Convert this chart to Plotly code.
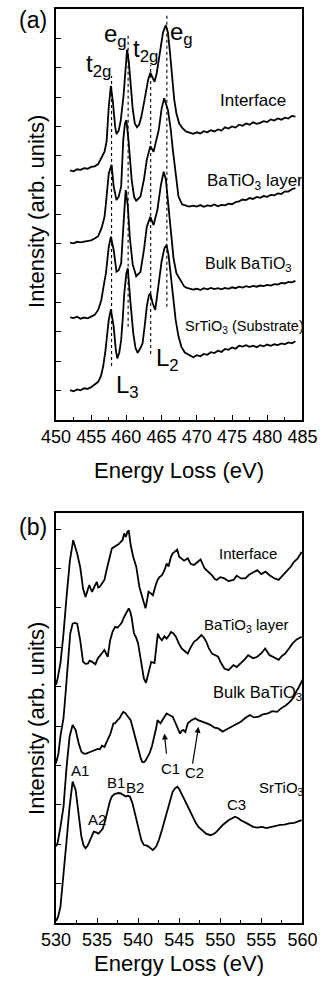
import plotly.graph_objects as go

# ---------------- Panel (a): Ti L2,3 edge (energy eV, intensity offset units) ----------------
A_INTERFACE = [
    (452.0, 8.50), (452.5, 8.47), (453.0, 8.54), (453.5, 8.52), (454.0, 8.58), (454.5, 8.56),
    (455.0, 8.62), (455.5, 8.64), (456.0, 8.72), (456.5, 8.95), (456.9, 9.14), (457.2, 9.50),
    (457.5, 10.67), (457.8, 11.38), (458.1, 10.80), (458.4, 10.00), (458.6, 9.74), (458.9, 9.85),
    (459.2, 10.20), (459.6, 11.05), (459.9, 12.20), (460.1, 12.62), (460.35, 12.20), (460.6, 11.50),
    (460.9, 10.60), (461.2, 10.10), (461.5, 9.97), (461.8, 10.05), (462.1, 10.30), (462.5, 10.80),
    (462.8, 11.20), (463.1, 11.60), (463.4, 11.83), (463.7, 11.65), (464.0, 11.52), (464.3, 11.80),
    (464.6, 12.26), (464.9, 12.80), (465.2, 13.20), (465.6, 13.45), (465.9, 13.20), (466.2, 12.50),
    (466.5, 11.70), (466.8, 10.90), (467.1, 10.45), (467.5, 10.10), (468.0, 9.93), (468.5, 9.82),
    (469.0, 9.79), (469.5, 9.75), (470.0, 9.80), (470.5, 9.76), (471.0, 9.84), (471.5, 9.80),
    (472.0, 9.87), (472.5, 9.83), (473.0, 9.90), (473.5, 9.86), (474.0, 9.97), (474.5, 9.93),
    (475.0, 10.00), (475.5, 9.96), (476.0, 10.06), (476.5, 10.02), (477.0, 10.10), (477.5, 10.06),
    (478.0, 10.14), (478.5, 10.09), (479.0, 10.12), (479.5, 10.18), (480.0, 10.15), (480.5, 10.24),
    (481.0, 10.20), (481.5, 10.27), (482.0, 10.23), (482.5, 10.30), (483.0, 10.27), (483.5, 10.36),
    (484.0, 10.33),
]
A_LAYER = [
    (452.0, 6.04), (452.5, 6.02), (453.0, 6.07), (453.5, 6.05), (454.0, 6.08), (454.5, 6.10),
    (455.0, 6.12), (455.5, 6.18), (456.0, 6.26), (456.5, 6.55), (456.9, 6.92), (457.1, 7.38),
    (457.5, 8.40), (457.9, 8.69), (458.2, 7.95), (458.6, 7.49), (458.9, 7.60), (459.26, 7.95),
    (459.56, 9.54), (459.8, 10.10), (460.0, 10.22), (460.3, 9.54), (460.76, 8.17), (461.1, 7.60),
    (461.4, 7.47), (462.0, 7.61), (462.5, 8.20), (462.9, 8.86), (463.4, 9.33), (463.86, 9.14),
    (464.2, 9.45), (464.6, 9.88), (465.0, 10.60), (465.37, 10.96), (465.9, 10.56), (466.3, 9.90),
    (466.6, 9.20), (467.0, 8.30), (467.4, 7.61), (467.9, 7.35), (468.4, 7.30), (468.9, 7.27),
    (469.5, 7.30), (470.0, 7.27), (470.5, 7.32), (471.0, 7.26), (471.5, 7.31), (472.0, 7.29),
    (472.5, 7.34), (473.0, 7.28), (473.5, 7.33), (474.0, 7.31), (474.5, 7.37), (475.0, 7.35),
    (475.5, 7.42), (476.0, 7.45), (476.5, 7.51), (477.0, 7.49), (477.5, 7.56), (478.0, 7.53),
    (478.5, 7.60), (479.0, 7.57), (479.5, 7.63), (480.0, 7.60), (480.5, 7.67), (481.0, 7.65),
    (481.5, 7.72), (482.0, 7.70), (482.5, 7.79), (483.0, 7.78), (483.5, 7.86), (484.0, 7.90),
]
A_BULK = [
    (452.0, 3.50), (452.5, 3.47), (453.0, 3.52), (453.5, 3.45), (454.0, 3.49), (454.5, 3.46),
    (455.0, 3.52), (455.5, 3.58), (456.0, 3.75), (456.45, 4.09), (456.8, 4.60), (457.1, 5.00),
    (457.5, 5.90), (457.8, 6.24), (458.2, 5.79), (458.6, 5.05), (458.9, 5.10), (459.26, 5.34),
    (459.5, 6.30), (459.7, 7.30), (459.9, 7.83), (460.2, 7.30), (460.5, 6.20), (460.9, 5.30),
    (461.4, 4.90), (462.0, 5.05), (462.5, 5.80), (462.9, 6.58), (463.4, 6.92), (463.86, 6.64),
    (464.4, 7.15), (464.9, 8.00), (465.3, 8.46), (465.6, 8.20), (465.9, 7.49), (466.3, 6.40),
    (466.7, 5.50), (467.1, 5.00), (467.65, 4.77), (468.2, 4.55), (468.6, 4.50), (469.0, 4.48),
    (469.5, 4.44), (470.0, 4.47), (470.5, 4.43), (471.0, 4.49), (471.5, 4.45), (472.0, 4.50),
    (472.5, 4.46), (473.0, 4.49), (473.5, 4.45), (474.0, 4.50), (474.5, 4.47), (475.0, 4.52),
    (475.5, 4.49), (476.0, 4.54), (476.5, 4.51), (477.0, 4.56), (477.5, 4.53), (478.0, 4.57),
    (478.5, 4.54), (479.0, 4.58), (479.5, 4.56), (480.0, 4.60), (480.5, 4.58), (481.0, 4.63),
    (481.5, 4.61), (482.0, 4.67), (482.5, 4.65), (483.0, 4.70), (483.5, 4.69), (484.0, 4.74),
]
A_SRTIO3 = [
    (452.0, 1.02), (452.5, 0.98), (453.0, 1.04), (453.5, 1.01), (454.0, 1.08), (454.5, 1.06),
    (455.0, 1.12), (455.5, 1.20), (456.0, 1.30), (456.4, 1.50), (456.7, 1.82), (457.0, 2.30),
    (457.2, 2.72), (457.5, 3.41), (457.8, 3.77), (458.2, 3.18), (458.5, 2.40), (458.7, 2.10),
    (459.0, 2.30), (459.26, 2.72), (459.5, 3.50), (459.7, 4.31), (460.0, 5.00), (460.2, 5.17),
    (460.55, 4.09), (460.98, 2.95), (461.3, 2.45), (461.6, 2.29), (462.0, 2.45), (462.3, 2.61),
    (462.6, 3.20), (462.9, 3.86), (463.2, 4.25), (463.4, 4.31), (463.7, 4.00), (464.1, 3.75),
    (464.6, 4.66), (465.0, 5.40), (465.4, 5.85), (465.7, 5.96), (466.0, 5.60), (466.3, 4.88),
    (466.7, 4.00), (467.0, 3.41), (467.4, 2.85), (467.8, 2.50), (468.3, 2.30), (468.9, 2.21),
    (469.5, 2.14), (470.0, 2.21), (470.5, 2.17), (471.0, 2.25), (471.5, 2.22), (472.0, 2.31),
    (472.5, 2.28), (473.0, 2.36), (473.5, 2.32), (474.0, 2.42), (474.5, 2.39), (475.0, 2.47),
    (475.5, 2.43), (476.0, 2.53), (476.5, 2.50), (477.0, 2.55), (477.5, 2.49), (478.0, 2.53),
    (478.5, 2.48), (479.0, 2.55), (479.5, 2.51), (480.0, 2.57), (480.5, 2.53), (481.0, 2.58),
    (481.5, 2.55), (482.0, 2.61), (482.5, 2.58), (483.0, 2.64), (483.5, 2.61), (484.0, 2.68),
]
# dotted guide lines: energy, bottom, top
A_DOT_E = [457.9, 460.25, 463.45, 465.75]
A_DOT_Y0 = [1.84, 3.18, 2.25, 3.86]
A_DOT_Y1 = [11.72, 13.10, 12.09, 13.80]

A_CURVE_LABELS = ["Interface", "BaTiO<sub>3</sub> layer", "Bulk BaTiO<sub>3</sub>", "SrTiO<sub>3</sub> (Substrate)"]
A_CURVE_LABEL_X = [478.0, 478.2, 477.3, 476.8]
A_CURVE_LABEL_Y = [10.90, 8.10, 5.30, 3.18]
A_CURVE_LABEL_SIZE = [17, 17, 16, 14.5]
A_PEAK_LABELS = ["t<sub>2g</sub>", "e<sub>g</sub>", "t<sub>2g</sub>", "e<sub>g</sub>", "L<sub>3</sub>", "L<sub>2</sub>"]
A_PEAK_X = [456.1, 458.5, 462.7, 467.8, 460.1, 465.9]
A_PEAK_Y = [12.06, 13.11, 12.57, 13.18, 1.14, 2.06]

A_XTICKS = [450, 455, 460, 465, 470, 475, 480, 485]

# ---------------- Panel (b): O K edge ----------------
B_INTERFACE = [
    (530.0, 6.05), (530.2, 6.20), (530.55, 6.60), (530.9, 7.30), (531.3, 8.30), (531.7, 9.20),
    (532.1, 9.72), (532.58, 9.38), (532.95, 9.04), (533.3, 8.49), (533.6, 8.28), (533.85, 8.45),
    (534.06, 8.58), (534.25, 8.48), (534.4, 8.41), (534.7, 8.55), (534.98, 8.66), (535.15, 8.52),
    (535.35, 8.54), (535.6, 8.62), (535.9, 8.71), (536.15, 8.95), (536.45, 9.21), (536.8, 9.51),
    (537.1, 9.55), (537.4, 9.59), (537.65, 9.62), (537.9, 9.68), (538.1, 9.72), (538.3, 9.89),
    (538.5, 9.80), (538.7, 9.93), (538.86, 9.97), (539.1, 9.59), (539.4, 9.30), (539.78, 9.04),
    (540.15, 8.54), (540.5, 8.28), (540.7, 8.10), (540.9, 7.99), (541.1, 8.20), (541.26, 8.41),
    (541.5, 8.38), (541.8, 8.32), (542.1, 8.55), (542.37, 8.71), (542.6, 8.78), (542.9, 8.83),
    (543.2, 8.95), (543.47, 9.13), (543.7, 9.05), (544.0, 9.30), (544.2, 9.38), (544.4, 9.42),
    (544.76, 9.48), (545.0, 9.30), (545.3, 9.26), (545.6, 9.20), (546.05, 9.26), (546.4, 9.12),
    (546.8, 9.09), (547.2, 9.15), (547.6, 9.23), (548.1, 9.00), (548.5, 8.92), (549.0, 8.83),
    (549.3, 8.74), (549.56, 8.71), (550.0, 8.78), (550.5, 8.75), (551.0, 8.68), (551.6, 8.71),
    (552.0, 8.82), (552.5, 8.75), (553.06, 8.75), (553.5, 8.84), (554.0, 8.90), (554.5, 8.96),
    (555.0, 8.86), (555.5, 8.92), (556.0, 8.83), (556.5, 8.76), (557.1, 8.71), (557.6, 8.82),
    (558.2, 8.96), (558.6, 9.05), (558.97, 9.17), (559.4, 9.25), (559.9, 9.42),
]
B_LAYER = [
    (530.0, 4.05), (530.3, 4.30), (530.55, 4.75), (530.92, 5.20), (531.2, 5.90), (531.47, 6.76),
    (531.74, 7.35), (532.03, 7.60), (532.3, 7.62), (532.58, 7.60), (532.95, 7.18), (533.3, 6.63),
    (533.6, 6.58), (533.9, 6.59), (534.1, 6.66), (534.4, 6.63), (534.6, 6.60), (534.8, 6.57),
    (535.1, 6.72), (535.35, 6.80), (535.6, 6.85), (535.9, 6.93), (536.1, 6.85), (536.3, 6.76),
    (536.6, 7.18), (536.9, 7.40), (537.2, 7.52), (537.5, 7.50), (537.75, 7.56), (538.0, 7.62),
    (538.3, 7.77), (538.6, 7.90), (538.86, 7.99), (539.05, 7.90), (539.2, 7.77), (539.5, 7.35),
    (539.75, 7.25), (540.0, 7.10), (540.3, 6.68), (540.5, 6.40), (540.7, 6.21), (540.96, 6.10),
    (541.26, 6.34), (541.6, 6.63), (542.0, 6.60), (542.2, 7.00), (542.4, 7.35), (542.6, 7.25),
    (542.9, 7.18), (543.2, 7.28), (543.47, 7.22), (543.75, 7.30), (544.0, 7.39), (544.3, 7.35),
    (544.6, 7.27), (544.95, 7.10), (545.3, 6.97), (545.7, 6.90), (546.05, 6.84), (546.4, 7.00),
    (546.8, 7.14), (547.2, 7.20), (547.7, 7.31), (548.0, 7.25), (548.3, 7.14), (548.6, 6.98),
    (549.0, 6.84), (549.4, 6.80), (549.74, 6.76), (550.1, 6.60), (550.5, 6.46), (551.0, 6.42),
    (551.3, 6.50), (551.6, 6.55), (552.0, 6.50), (552.5, 6.59), (553.0, 6.70), (553.4, 6.80),
    (554.0, 6.72), (554.5, 6.76), (555.0, 6.85), (555.46, 6.97), (556.0, 6.80), (556.4, 6.76),
    (557.1, 6.68), (557.5, 6.78), (557.9, 6.84), (558.4, 6.98), (558.8, 7.10), (559.3, 7.20),
    (559.9, 7.27),
]
B_BULK = [
    (530.0, 1.95), (530.19, 2.02), (530.55, 2.44), (530.92, 2.95), (531.3, 3.97), (531.66, 4.73),
    (532.03, 5.03), (532.4, 4.90), (532.77, 4.56), (533.1, 4.35), (533.4, 4.30), (533.7, 4.30),
    (534.0, 4.33), (534.24, 4.35), (534.5, 4.37), (534.8, 4.39), (535.1, 4.42), (535.35, 4.41),
    (535.6, 4.50), (535.9, 4.47), (536.3, 4.64), (536.64, 4.81), (537.0, 5.07), (537.2, 5.07),
    (537.5, 5.15), (537.75, 5.20), (538.0, 5.30), (538.2, 5.36), (538.45, 5.33), (538.67, 5.28),
    (538.9, 5.20), (539.1, 5.15), (539.35, 4.95), (539.6, 4.73), (539.9, 4.50), (540.15, 4.26),
    (540.33, 4.18), (540.5, 4.09), (540.7, 4.08), (540.9, 4.12), (541.15, 4.20), (541.4, 4.31),
    (541.7, 4.50), (542.0, 4.73), (542.2, 4.95), (542.36, 5.15), (542.55, 5.10), (542.73, 5.07),
    (543.1, 5.20), (543.47, 5.32), (543.8, 5.28), (544.2, 5.24), (544.5, 5.10), (544.76, 4.98),
    (545.1, 4.81), (545.3, 4.88), (545.5, 4.90), (545.75, 4.85), (546.05, 5.07), (546.5, 5.15),
    (546.97, 5.20), (547.3, 5.15), (547.7, 5.11), (548.2, 5.08), (548.8, 5.03), (549.3, 4.96),
    (549.74, 4.94), (550.3, 4.86), (550.8, 4.92), (551.4, 4.98), (551.9, 5.05), (552.5, 5.11),
    (553.0, 5.20), (553.6, 5.28), (554.1, 5.22), (554.7, 5.24), (555.2, 5.30), (555.8, 5.32),
    (556.3, 5.38), (556.9, 5.36), (557.4, 5.45), (558.0, 5.53), (558.5, 5.62), (558.97, 5.74),
    (559.3, 5.90), (559.5, 5.96), (560.0, 6.17),
]
B_SRTIO3 = [
    (530.0, 0.05), (530.25, 0.15), (530.55, 0.41), (530.92, 1.18), (531.3, 2.10), (531.66, 2.95),
    (532.03, 3.59), (532.4, 3.38), (532.77, 2.78), (533.1, 2.19), (533.35, 1.98), (533.6, 1.90),
    (533.85, 1.96), (534.06, 2.06), (534.3, 2.20), (534.6, 2.32), (534.9, 2.30), (535.17, 2.27),
    (535.45, 2.33), (535.7, 2.40), (536.0, 2.60), (536.3, 2.87), (536.55, 3.08), (536.8, 3.21),
    (537.1, 3.27), (537.4, 3.29), (537.65, 3.30), (537.9, 3.29), (538.2, 3.24), (538.5, 3.21),
    (538.75, 3.23), (539.0, 3.21), (539.3, 3.05), (539.6, 2.78), (539.9, 2.50), (540.15, 2.27),
    (540.4, 2.10), (540.7, 1.98), (541.0, 1.97), (541.26, 1.94), (541.55, 1.90), (541.8, 1.85),
    (542.2, 1.94), (542.55, 2.12), (542.9, 2.36), (543.3, 2.65), (543.65, 2.95), (543.9, 3.15),
    (544.2, 3.33), (544.5, 3.42), (544.76, 3.46), (545.0, 3.40), (545.3, 3.29), (545.6, 3.15),
    (545.86, 3.04), (546.2, 2.88), (546.6, 2.70), (547.0, 2.55), (547.35, 2.44), (547.8, 2.35),
    (548.27, 2.27), (548.8, 2.23), (549.2, 2.26), (549.56, 2.32), (550.0, 2.42), (550.3, 2.49),
    (551.0, 2.61), (551.4, 2.66), (551.8, 2.70), (552.2, 2.66), (552.5, 2.61), (553.25, 2.53),
    (553.6, 2.48), (554.0, 2.44), (554.5, 2.42), (555.1, 2.44), (555.6, 2.41), (556.2, 2.44),
    (556.7, 2.46), (557.3, 2.49), (557.8, 2.50), (558.4, 2.53), (559.0, 2.54), (559.5, 2.57),
    (559.9, 2.61),
]
B_CURVE_LABELS = ["Interface", "BaTiO<sub>3</sub> layer", "Bulk BaTiO<sub>3</sub>", "SrTiO<sub>3</sub>"]
B_CURVE_LABEL_X = [553.4, 553.1, 554.5, 557.4]
B_CURVE_LABEL_Y = [9.39, 7.55, 5.85, 3.42]
B_CURVE_LABEL_SIZE = [15, 15, 16.5, 15]
B_PEAK_LABELS = ["A1", "A2", "B1", "B2", "C1", "C2", "C3"]
B_PEAK_X = [532.9, 535.0, 537.3, 539.6, 543.95, 546.85, 552.0]
B_PEAK_Y = [3.86, 2.64, 3.58, 3.43, 3.93, 3.81, 3.02]
# arrows: (tail E, tail y) -> (head E, head y)
B_ARROW_TAIL = [(543.47, 4.26), (546.6, 4.01)]
B_ARROW_HEAD = [(543.2, 4.81), (547.35, 4.98)]

B_XTICKS = [530, 535, 540, 545, 550, 555, 560]

FONT = "Liberation Sans, Arial, sans-serif"
W, H = 332, 986

fig = go.Figure()


def add_curve(pairs, xa, ya, dash=None, width=1.8):
    fig.add_trace(go.Scatter(
        x=[p[0] for p in pairs], y=[p[1] for p in pairs],
        mode="lines", xaxis=xa, yaxis=ya, showlegend=False, hoverinfo="skip",
        line=dict(color="black", width=width, dash=dash),
    ))


for s in (A_INTERFACE, A_LAYER, A_BULK, A_SRTIO3):
    add_curve(s, "x", "y")
for e, y0, y1 in zip(A_DOT_E, A_DOT_Y0, A_DOT_Y1):
    add_curve([(e, y0), (e, y1)], "x", "y", dash="dot", width=1.1)
for s in (B_INTERFACE, B_LAYER, B_BULK, B_SRTIO3):
    add_curve(s, "x2", "y2")


def label(text, x, y, xref, yref, size, **kw):
    return dict(text=text, x=x, y=y, xref=xref, yref=yref, showarrow=False,
                xanchor="center", yanchor="middle",
                font=dict(size=size, family=FONT, color="black"), **kw)


annotations = []
for t, x, y, s in zip(A_CURVE_LABELS, A_CURVE_LABEL_X, A_CURVE_LABEL_Y, A_CURVE_LABEL_SIZE):
    annotations.append(label(t, x, y, "x", "y", s))
for t, x, y in zip(A_PEAK_LABELS, A_PEAK_X, A_PEAK_Y):
    annotations.append(label(t, x, y, "x", "y", 24))
for t, x, y, s in zip(B_CURVE_LABELS, B_CURVE_LABEL_X, B_CURVE_LABEL_Y, B_CURVE_LABEL_SIZE):
    annotations.append(label(t, x, y, "x2", "y2", s))
for t, x, y in zip(B_PEAK_LABELS, B_PEAK_X, B_PEAK_Y):
    annotations.append(label(t, x, y, "x2", "y2", 15))
for (tx, ty), (hx, hy) in zip(B_ARROW_TAIL, B_ARROW_HEAD):
    annotations.append(dict(text="", x=hx, y=hy, ax=tx, ay=ty, xref="x2", yref="y2",
                            axref="x2", ayref="y2", showarrow=True, arrowhead=2,
                            arrowsize=1, arrowwidth=1.2, arrowcolor="black"))

# panel letters and axis titles (paper coordinates)
annotations += [
    label("(a)", 20 / W, 1 - 20 / H, "paper", "paper", 23),
    label("(b)", 20 / W, 1 - 527 / H, "paper", "paper", 23),
    label("Energy Loss (eV)", 180 / W, 1 - 470 / H, "paper", "paper", 22),
    label("Energy Loss (eV)", 180 / W, 1 - 963 / H, "paper", "paper", 22),
    label("Intensity (arb. units)", 23 / W, 1 - 211 / H, "paper", "paper", 22, textangle=-90),
    label("Intensity (arb. units)", 23 / W, 1 - 718 / H, "paper", "paper", 22, textangle=-90),
]

axis_common = dict(showline=True, mirror=True, linecolor="black", linewidth=1.5,
                   showgrid=False, zeroline=False, ticks="inside", ticklen=5,
                   tickcolor="black", tickwidth=1.2)

fig.update_layout(
    width=W, height=H, margin=dict(l=0, r=0, t=0, b=0),
    paper_bgcolor="white", plot_bgcolor="white", showlegend=False,
    font=dict(family=FONT, color="black"),
    annotations=annotations,
    xaxis=dict(domain=[45 / W, 316 / W], range=[450, 485], tickvals=A_XTICKS,
               tickfont=dict(size=18, family=FONT, color="black"),
               minor=dict(dtick=2.5, tick0=450, ticks="inside", ticklen=3, tickcolor="black"),
               anchor="y", **axis_common),
    yaxis=dict(domain=[1 - 420 / H, 1 - 9 / H], range=[0, 14], dtick=1, tick0=0,
               showticklabels=False, anchor="x", **axis_common),
    xaxis2=dict(domain=[45 / W, 316 / W], range=[530, 560], tickvals=B_XTICKS,
                tickfont=dict(size=18, family=FONT, color="black"),
                minor=dict(dtick=2.5, tick0=530, ticks="inside", ticklen=3, tickcolor="black"),
                anchor="y2", **axis_common),
    yaxis2=dict(domain=[1 - 923 / H, 1 - 513 / H], range=[0, 10.41], dtick=1, tick0=0,
                showticklabels=False, anchor="x2", **axis_common),
)

fig.write_html("out.html")
